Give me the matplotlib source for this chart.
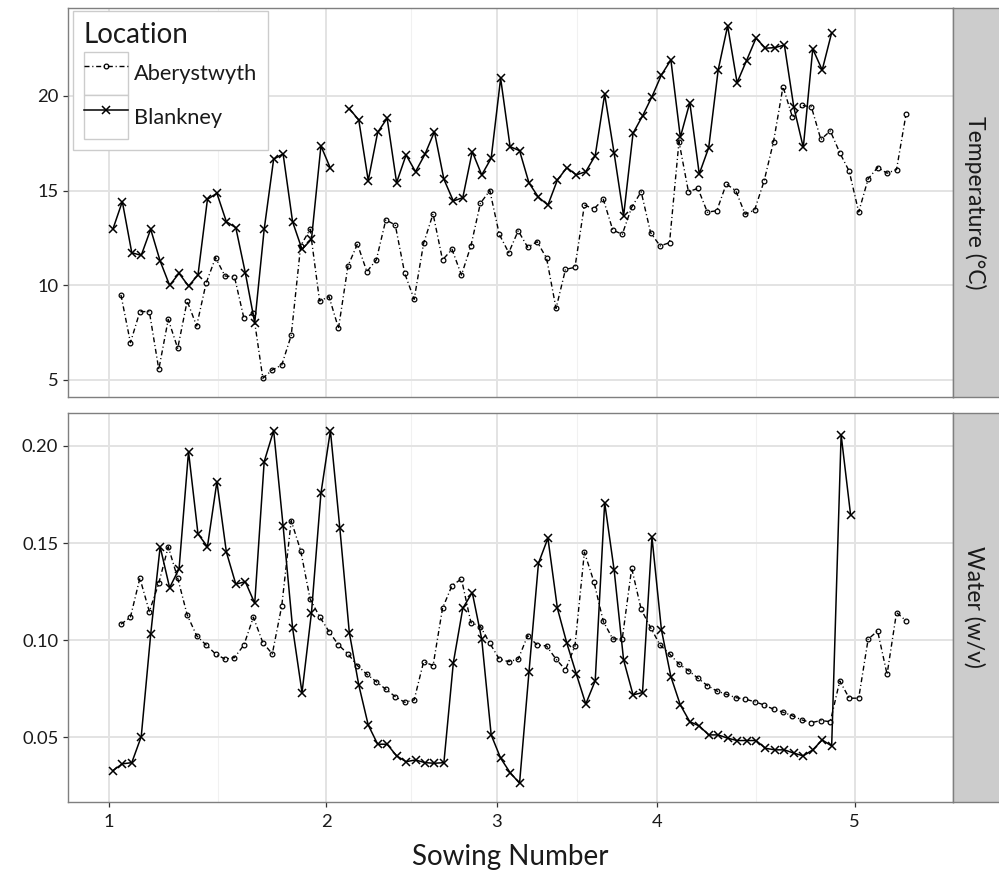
import numpy as np
import matplotlib
matplotlib.use("Agg")
import matplotlib.pyplot as plt
from matplotlib.patches import Rectangle
from matplotlib.legend_handler import HandlerTuple

plt.rcParams['font.family'] = ['Lato', 'DejaVu Sans']

# ---------------- data ----------------
sowing_days = [0, 161, 287, 406, 552]          # day of each sowing
sowing_labels = ['1', '2', '3', '4', '5']

aber_start_day = 9       # first weekly sample, Aberystwyth
blank_start_day = 3      # first weekly sample, Blankney
sample_step = 7          # weekly samples

aber_temp = [9.49, 6.97, 8.61, 8.61, 5.56, 8.20, 6.67, 9.17, 7.85, 10.11,
             11.46, 10.49, 10.45, 8.26, 8.52, 5.09, 5.53, 5.79, 7.35, 12.08,
             12.96, 9.17, 9.40, 7.73, 11.02, 12.18, 10.72, 11.34, 13.45, 13.19,
             10.63, 9.26, 12.22, 13.77, 11.34, 11.90, 10.54, 12.08, 14.33, 15.00,
             12.69, 11.72, 12.88, 12.01, 12.30, 11.43, 8.78, 10.84, 10.95, 14.24,
             14.03, 14.54, 12.92, 12.69, 14.12, 14.94, 12.78, 12.08, 12.25, 17.59,
             14.94, 15.12, 13.86, 13.94, 15.35, 15.00, 13.75, 13.98, 15.51, 17.59,
             20.49, 18.87, 19.50, 19.42, 17.70, 18.15, 17.00, 16.02, 13.87, 15.62,
             16.22, 15.92, 16.11, 19.02]

blank_temp = [12.96, 14.42, 11.72, 11.58, 12.96, 11.28, 10.00, 10.63, 9.96, 10.54,
              14.54, 14.86, 13.36, 13.04, 10.67, 8.02, 12.96, 16.66, 16.94, 13.36,
              11.90, 12.43, 17.36, 16.18, np.nan, 19.33, 18.73, 15.53, 18.08, 18.82,
              15.42, 16.88, 16.00, 16.92, 18.11, 15.60, 14.45, 14.63, 17.06, 15.83,
              16.71, 20.93, 17.32, 17.11, 15.40, 14.65, 14.24, 15.56, 16.21, 15.83,
              16.00, 16.85, 20.09, 16.97, 13.66, 18.03, 18.94, 19.96, 21.11, 21.90,
              17.82, 19.65, 15.88, 17.27, 21.37, 23.70, 20.70, 21.87, 23.05, 22.52,
              22.55, 22.69, 19.40, 17.28, 22.48, 21.37, 23.34]

aber_water = [0.1082, 0.1118, 0.1319, 0.1147, 0.1293, 0.1481, 0.1319, 0.1130, 0.1023, 0.0975,
              0.0929, 0.0902, 0.0910, 0.0975, 0.1118, 0.0987, 0.0929, 0.1176, 0.1615, 0.1461,
              0.1211, 0.1121, 0.1044, 0.0975, 0.0929, 0.0869, 0.0824, 0.0786, 0.0747, 0.0709,
              0.0680, 0.0692, 0.0889, 0.0869, 0.1164, 0.1281, 0.1315, 0.1090, 0.1070, 0.0984,
              0.0902, 0.0889, 0.0902, 0.1023, 0.0975, 0.0970, 0.0902, 0.0847, 0.0970, 0.1453,
              0.1301, 0.1096, 0.1006, 0.1006, 0.1370, 0.1159, 0.1064, 0.0975, 0.0929, 0.0877,
              0.0843, 0.0804, 0.0766, 0.0738, 0.0721, 0.0704, 0.0696, 0.0683, 0.0666, 0.0644,
              0.0629, 0.0610, 0.0589, 0.0575, 0.0586, 0.0580, 0.0790, 0.0701, 0.0701, 0.1005,
              0.1047, 0.0824, 0.1142, 0.1100]

blank_water = [0.0328, 0.0363, 0.0369, 0.0503, 0.1030, 0.1481, 0.1270, 0.1367, 0.1971, 0.1547,
               0.1481, 0.1815, 0.1454, 0.1288, 0.1301, 0.1190, 0.1919, 0.2079, 0.1588, 0.1064,
               0.0730, 0.1142, 0.1756, 0.2079, 0.1576, 0.1039, 0.0769, 0.0563, 0.0464, 0.0464,
               0.0404, 0.0374, 0.0383, 0.0369, 0.0366, 0.0369, 0.0884, 0.1164, 0.1245, 0.1005,
               0.0512, 0.0392, 0.0318, 0.0263, 0.0838, 0.1396, 0.1525, 0.1164, 0.0984, 0.0826,
               0.0671, 0.0791, 0.1708, 0.1361, 0.0898, 0.0718, 0.0730, 0.1530, 0.1053, 0.0812,
               0.0666, 0.0580, 0.0558, 0.0512, 0.0512, 0.0495, 0.0483, 0.0483, 0.0483, 0.0443,
               0.0435, 0.0435, 0.0418, 0.0404, 0.0435, 0.0486, 0.0455, 0.2057, 0.1645]

temp_ticks = [5, 10, 15, 20]
water_ticks = [0.05, 0.10, 0.15, 0.20]
strip_labels = ['Temperature (°C)', 'Water (w/v)']
locations = ['Aberystwyth', 'Blankney']

# ---------------- styling ----------------
W, H = 999, 873
fig = plt.figure(figsize=(W / 100, H / 100), dpi=100)

left, right = 68, 953
panels = [(7.5, 397.0), (412.7, 801.7)]     # top/bottom pixel edges
ylims = [(4.10, 24.67), (0.0168, 0.2171)]

border = '#7F7F7F'
major_grid = '#E3E3E3'
minor_grid = '#F1F1F1'
txt = '#1A1A1A'

aber_style = dict(color='black', lw=1.0, linestyle=(0, (3.6, 2.0, 0.8, 2.0)),
                  marker='o', ms=3.4, mfc='none', mec='black', mew=0.9)
blank_style = dict(color='black', lw=1.1, linestyle='-',
                   marker='x', ms=5.6, mew=1.1)

minor_x = [(a + b) / 2 for a, b in zip(sowing_days[:-1], sowing_days[1:])]

axes = []
for i, (top, bot) in enumerate(panels):
    ax = fig.add_axes([left / W, 1 - bot / H, (right - left) / W, (bot - top) / H])
    axes.append(ax)
    ax.set_xlim(-30.2, 624.8)
    ax.set_ylim(*ylims[i])
    ax.set_axisbelow(True)
    ax.set_xticks(sowing_days)
    ax.set_xticks(minor_x, minor=True)
    for s in ax.spines.values():
        s.set_color(border)
        s.set_linewidth(1.0)
    ax.grid(which='major', color=major_grid, lw=1.4)
    ax.grid(which='minor', color=minor_grid, lw=0.8)
    ax.tick_params(which='minor', length=0)
    ax.tick_params(axis='both', which='major', length=3.5, width=0.9,
                   color='#333333', labelcolor=txt, labelsize=13.2, pad=3.5)

    # strip
    sax = fig.add_axes([right / W, 1 - bot / H, (W - right + 2) / W, (bot - top) / H])
    sax.set_facecolor('#CCCCCC')
    sax.set_xticks([])
    sax.set_yticks([])
    for s in sax.spines.values():
        s.set_color(border)
        s.set_linewidth(1.0)
    sax.text(0.45, 0.5, strip_labels[i], rotation=-90, ha='center', va='center',
             fontsize=16.5, color=txt, transform=sax.transAxes)

ax_t, ax_b = axes

aber_x = aber_start_day + sample_step * np.arange(len(aber_temp))
blank_x_t = blank_start_day + sample_step * np.arange(len(blank_temp))
aber_x_w = aber_start_day + sample_step * np.arange(len(aber_water))
blank_x_w = blank_start_day + sample_step * np.arange(len(blank_water))

l1, = ax_t.plot(aber_x, aber_temp, **aber_style)
l2, = ax_t.plot(blank_x_t, blank_temp, **blank_style)
ax_b.plot(aber_x_w, aber_water, **aber_style)
ax_b.plot(blank_x_w, blank_water, **blank_style)

ax_t.set_yticks(temp_ticks)
ax_t.set_yticklabels([f'{v:d}' for v in temp_ticks])
ax_t.tick_params(axis='x', length=0, labelbottom=False)

ax_b.set_yticks(water_ticks)
ax_b.set_yticklabels([f'{v:.2f}' for v in water_ticks])
ax_b.set_xticklabels(sowing_labels)
ax_b.tick_params(axis='x', pad=5)

ax_b.set_xlabel('Sowing Number', fontsize=20, color=txt, va='center')
ax_b.xaxis.set_label_coords(0.5, -(857 - 801.7) / (801.7 - 412.7))

# legend with ggplot-like key boxes
keys = [Rectangle((0, 0), 1, 1, facecolor='white', edgecolor='#CCCCCC', lw=1.0)
        for _ in range(2)]
leg = ax_t.legend(handles=[(keys[0], l1), (keys[1], l2)], labels=locations,
                  handler_map={tuple: HandlerTuple(ndivide=1, pad=0)},
                  title='Location', loc='upper left',
                  bbox_to_anchor=(5 / 885, 1 - 3.5 / 389.5), borderaxespad=0,
                  fontsize=15.7, title_fontsize=20, handlelength=2.0, handleheight=2.68,
                  labelspacing=0, handletextpad=0.3, borderpad=0.5,
                  frameon=True, fancybox=False, edgecolor='#CCCCCC', framealpha=1,
                  alignment='left')
leg._legend_box.sep = 3
leg.get_frame().set_linewidth(1.0)
for t in leg.get_texts():
    t.set_color(txt)
leg.get_title().set_color(txt)

fig.savefig('out.png', dpi=100)
